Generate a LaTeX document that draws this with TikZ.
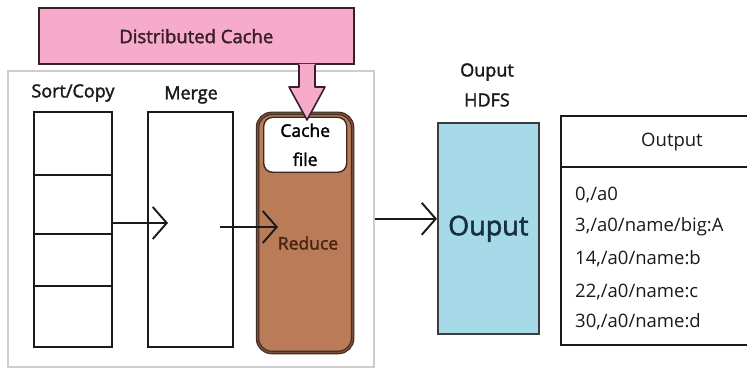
\documentclass[tikz,border=0pt]{standalone}
\usepackage{fontspec}
\setmainfont{Open Sans}
\newfontfamily\semib[FakeBold=2]{Open Sans}
\usepackage{tikz}
\usetikzlibrary{positioning,calc,arrows.meta}
\definecolor{ink}       {HTML}{1A1A1A}
\definecolor{cachepink} {HTML}{F5ABC9}
\definecolor{cacheink}  {HTML}{3A1E2C}
\definecolor{rimgray}   {HTML}{CDCDCD}
\definecolor{reducefill}{HTML}{B97B58}
\definecolor{reducerim} {HTML}{3C2A22}
\definecolor{reducetext}{HTML}{4A2412}
\definecolor{hdfsblue}  {HTML}{A6DAE9}
\definecolor{hdfsink}   {HTML}{173040}
\tikzset{
  % --- nodes
  box/.style      = {draw=ink, line width=1.6pt, fill=white, inner sep=0pt,
                     anchor=south west},
  cachebar/.style = {box, draw=cacheink, fill=cachepink, text=cacheink,
                     font=\semib\fontsize{18.5}{20}\selectfont},
  outerbox/.style = {draw=rimgray, line width=2.4pt, inner sep=0pt, anchor=south west},
  reducebox/.style= {box, rounded corners=14pt, fill=reducefill, draw=reducerim,
                     line width=1.1pt, double=reducefill!65!black, double distance=1.4pt},
  filebox/.style  = {box, rounded corners=9pt, draw=reducerim, line width=1.4pt,
                     align=center, font=\semib\fontsize{17.5}{29}\selectfont},
  hdfsbox/.style  = {box, fill=hdfsblue, draw=ink!85, text=hdfsink,
                     font=\semib\fontsize{27}{30}\selectfont},
  tablebox/.style = {box, line width=2.4pt},
  lbl/.style      = {font=\semib\fontsize{18}{30}\selectfont, text=ink, align=center},
  rowtxt/.style   = {font=\fontsize{18.5}{20}\selectfont, text=ink, anchor=west, inner sep=0pt},
  % --- edges
  flow/.style     = {-{Straight Barb[length=14pt,width=32pt]}, line width=1.9pt, draw=ink},
}

\begin{document}
\begin{tikzpicture}[x=1pt,y=1pt]
  \useasboundingbox (0,0) rectangle (747,370);
  \clip (0,0) rectangle (747,370);

  % distributed cache bar
  \node[cachebar, minimum width=315pt, minimum height=56pt] (cache) at (38,305)
    {Distributed Cache};

  % reduce task frame
  \node[outerbox, minimum width=366pt, minimum height=296pt] (task) at (7,2) {};
  \node[lbl] (sortlbl)  at (73,277) {Sort/Copy};
  \node[lbl] (mergelbl) at (191,275) {Merge};

  \node[box, minimum width=78pt, minimum height=235pt] (sort) at (33,22) {};
  \foreach \yy in {195,136,84}
    \draw[ink, line width=1.6pt] (sort.west |- 0,\yy) -- (sort.east |- 0,\yy);
  \node[box, minimum width=85pt, minimum height=235pt] (merge) at (147,22) {};

  \node[reducebox, minimum width=95pt, minimum height=239pt] (reduce) at (257,17) {};
  \node[filebox, minimum width=83pt, minimum height=55pt] (cfile) at (263,197)
    {Cache\\file};
  \node[font=\semib\fontsize{17.5}{20}\selectfont, text=reducetext] (reducelbl)
    at (308,127) {Reduce};

  \coordinate (m1) at (168,147);
  \coordinate (r1) at (278,143);
  \draw[flow] (sort.east |- m1) -- (m1);
  \draw[flow] ($(merge.east |- r1)+(-14,0)$) -- (r1);

  % cache arrow into reduce
  \fill[cachepink] (299,306) -- (299,283) -- (289,283) -- (307,250) -- (325,283)
    -- (315,283) -- (315,306) -- cycle;
  \draw[cacheink, line width=1.6pt, line join=round]
    (299,305.2) -- (299,283) -- (289,283) -- (307,250) -- (325,283)
    -- (315,283) -- (315,305.2);

  % output side
  \node[lbl] (hdfslbl) at (487,285) {Ouput\\HDFS};
  \node[hdfsbox, minimum width=101pt, minimum height=211pt] (hdfs) at (437,35) {Ouput};
  \draw[flow] (task.east) -- (task.east -| hdfs.west);

  \node[tablebox, minimum width=230pt, minimum height=229pt] (table) at (560,24) {};
  \draw[ink, line width=2.4pt] (table.west |- 0,203) -- (table.east |- 0,203);
  \node[font=\fontsize{18.5}{20}\selectfont, text=ink] (thead) at (672,228) {Output};
  \node[rowtxt] (row1) at (575,175) {0,/a0};
  \node[rowtxt] (row2) at (575,143) {3,/a0/name/big:A};
  \node[rowtxt] (row3) at (575,111) {14,/a0/name:b};
  \node[rowtxt] (row4) at (575,78)  {22,/a0/name:c};
  \node[rowtxt] (row5) at (575,48)  {30,/a0/name:d};
\end{tikzpicture}
\end{document}
